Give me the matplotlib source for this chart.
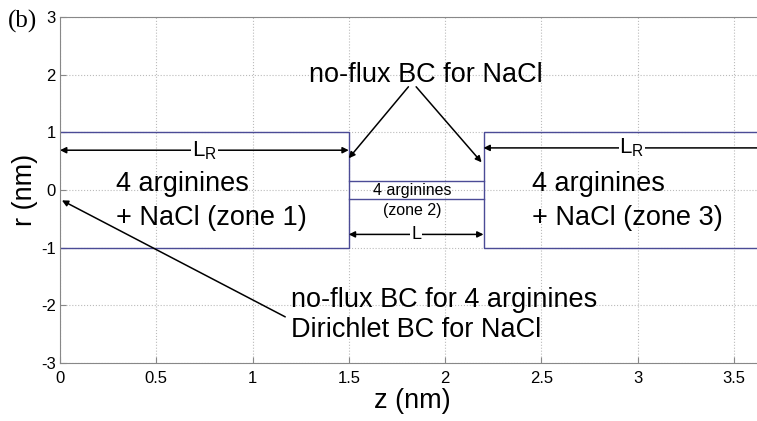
import matplotlib
matplotlib.use("Agg")
import matplotlib.pyplot as plt

# Channel geometry (nm)
z_zone1 = [0.0, 1.5]
z_zone2 = [1.5, 2.2]
z_zone3 = [2.2, 3.7]
r_bath = 1.0
r_pore = 0.15

xticks = [0, 0.5, 1, 1.5, 2, 2.5, 3, 3.5]
yticks = [-3, -2, -1, 0, 1, 2, 3]

line_col = "#4b4b96"
font = ["Liberation Sans", "DejaVu Sans"]
big = 19.5

fig = plt.figure(figsize=(7.57, 4.21), dpi=100)
ax = fig.add_axes([60 / 757, 1 - 363 / 421, 1 - 60 / 757 + 0.01, (363 - 17) / 421])

# zone outlines
ax.plot([z_zone1[0], z_zone1[1], z_zone1[1], z_zone1[0]],
        [r_bath, r_bath, -r_bath, -r_bath], color=line_col, lw=1.0)
ax.plot(z_zone2, [r_pore, r_pore], color=line_col, lw=1.0)
ax.plot(z_zone2, [-r_pore, -r_pore], color=line_col, lw=1.0)
ax.plot([z_zone3[1], z_zone3[0], z_zone3[0], z_zone3[1]],
        [r_bath, r_bath, -r_bath, -r_bath], color=line_col, lw=1.0)

ax.set_xlim(0, 3.66)
ax.set_ylim(-3, 3)
ax.set_xticks(xticks)
ax.set_xticklabels([f"{t:g}" for t in xticks], fontfamily=font, fontsize=12)
ax.set_yticks(yticks)
ax.set_yticklabels([f"{t:g}" for t in yticks], fontfamily=font, fontsize=12)
ax.tick_params(direction="in", length=4, color="#888888")
ax.tick_params(axis="x", pad=6)
ax.tick_params(axis="y", pad=3)
ax.grid(True, linestyle=":", color="#bbbbbb", lw=0.8)
for side in ("left", "bottom", "top"):
    ax.spines[side].set_color("#888888")
ax.spines["right"].set_visible(False)

ax.set_xlabel("z (nm)", fontfamily=font, fontsize=big, labelpad=1)
ax.set_ylabel("r (nm)", fontfamily=font, fontsize=big, labelpad=2)

arrow = dict(arrowstyle="-|>", color="black", lw=1.1, mutation_scale=9,
             shrinkA=0, shrinkB=0)
double = dict(arrowstyle="<|-|>", color="black", lw=1.1, mutation_scale=9,
              shrinkA=0, shrinkB=0)
gap = dict(facecolor="white", edgecolor="none", pad=0.5)

# length markers
ax.annotate("", xy=(z_zone1[0], 0.69), xytext=(z_zone1[1], 0.69), arrowprops=double)
ax.text(0.75, 0.69, r"L$_\mathregular{R}$", ha="center", va="center", fontfamily=font,
        fontsize=16, bbox=gap)
a = ax.annotate("", xy=(z_zone3[0], 0.73), xytext=(3.8, 0.73), arrowprops=arrow)
a.arrow_patch.set_clip_on(True)
ax.text(2.97, 0.73, r"L$_\mathregular{R}$", ha="center", va="center", fontfamily=font,
        fontsize=16, bbox=gap)
ax.annotate("", xy=(z_zone2[0], -0.77), xytext=(z_zone2[1], -0.77), arrowprops=double)
ax.text(1.85, -0.77, "L", ha="center", va="center", fontfamily=font,
        fontsize=13, bbox=gap)

# zone labels
ax.text(0.29, 0.1, "4 arginines", fontfamily=font, fontsize=big, va="center")
ax.text(0.29, -0.48, "+ NaCl (zone 1)", fontfamily=font, fontsize=big, va="center")
ax.text(2.45, 0.1, "4 arginines", fontfamily=font, fontsize=big, va="center")
ax.text(2.45, -0.48, "+ NaCl (zone 3)", fontfamily=font, fontsize=big, va="center")
ax.text(1.83, 0.0, "4 arginines", fontfamily=font, fontsize=11.5, ha="center", va="center")
ax.text(1.83, -0.36, "(zone 2)", fontfamily=font, fontsize=11.5, ha="center", va="center")

# boundary condition notes
ax.text(1.9, 2.0, "no-flux BC for NaCl", fontfamily=font, fontsize=big,
        ha="center", va="center")
ax.annotate("", xy=(1.5, 0.55), xytext=(1.81, 1.79), arrowprops=arrow)
ax.annotate("", xy=(2.19, 0.48), xytext=(1.85, 1.79), arrowprops=arrow)

ax.text(1.2, -1.91, "no-flux BC for 4 arginines", fontfamily=font, fontsize=big,
        va="center")
ax.text(1.2, -2.43, "Dirichlet BC for NaCl", fontfamily=font, fontsize=big,
        va="center")
ax.annotate("", xy=(0.01, -0.18), xytext=(1.17, -2.2), arrowprops=arrow)
b = ax.annotate("", xy=(3.7, -0.11), xytext=(2.83, -2.29), arrowprops=arrow)
b.arrow_patch.set_clip_on(True)

fig.text(8 / 757, 1 - 21 / 421, "(b)", fontfamily=["Liberation Serif", "DejaVu Serif"],
         fontsize=18, va="center")

fig.savefig("out.png", dpi=100)
